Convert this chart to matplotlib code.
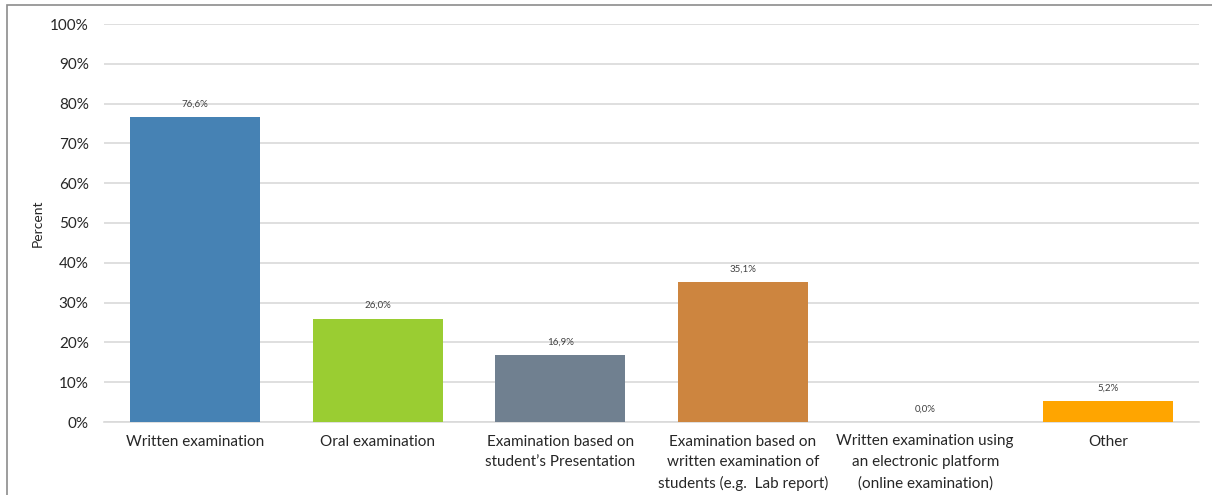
import matplotlib.pyplot as plt
from matplotlib.patches import Rectangle
from matplotlib.ticker import FuncFormatter, MultipleLocator
import numpy as np

categories = [
    "Written examination",
    "Oral examination",
    "Examination based on\nstudent\u2019s Presentation",
    "Examination based on\nwritten examination of\nstudents (e.g.  Lab report)",
    "Written examination using\nan electronic platform\n(online examination)",
    "Other",
]
percent = [76.6, 26.0, 16.9, 35.1, 0.0, 5.2]
bar_colors = ["#4682B4", "#9ACD32", "#708090", "#CD853F", "#FFA500", "#FFA500"]

plt.rcParams["font.family"] = ["Lato", "DejaVu Sans"]

fig = plt.figure(figsize=(12.12, 4.95), dpi=100)
ax = fig.add_axes([104 / 1212, 73 / 495, 1095 / 1212, 398 / 495])

# outer chart frame (only top and left edges visible)
fig.patches.append(
    Rectangle((7 / 1212, -0.05), 1.2, (490 / 495) + 0.05,
              transform=fig.transFigure, fill=False, edgecolor="#8c8c8c", linewidth=1.2)
)

x = np.arange(len(categories))
bars = ax.bar(x, percent, width=0.71, color=bar_colors, zorder=3)

labels = ["{:.1f}%".format(v).replace(".", ",") for v in percent]
ax.bar_label(bars, labels=labels, padding=6, fontsize=7, color="#404040")

ax.set_xlim(-0.5, len(categories) - 0.5)
ax.set_ylim(0, 100)
ax.yaxis.set_major_locator(MultipleLocator(10))
ax.yaxis.set_major_formatter(FuncFormatter(lambda v, _: "{:.0f}%".format(v)))
ax.grid(axis="y", color="#d9d9d9", linewidth=1.2, zorder=0)
ax.set_axisbelow(True)

ax.set_xticks(x, categories, fontsize=11, color="#262626", linespacing=1.6)
ax.tick_params(axis="y", labelsize=11, labelcolor="#262626", length=0, pad=11)
ax.tick_params(axis="x", length=0, pad=9)

for side in ["top", "right", "left"]:
    ax.spines[side].set_visible(False)
ax.spines["bottom"].set_color("#d9d9d9")
ax.spines["bottom"].set_linewidth(1.2)

ax.set_ylabel("Percent", fontsize=10, color="#262626")
ax.yaxis.set_label_coords(-60 / 1095, 0.5)

fig.savefig("out.png", dpi=100)
